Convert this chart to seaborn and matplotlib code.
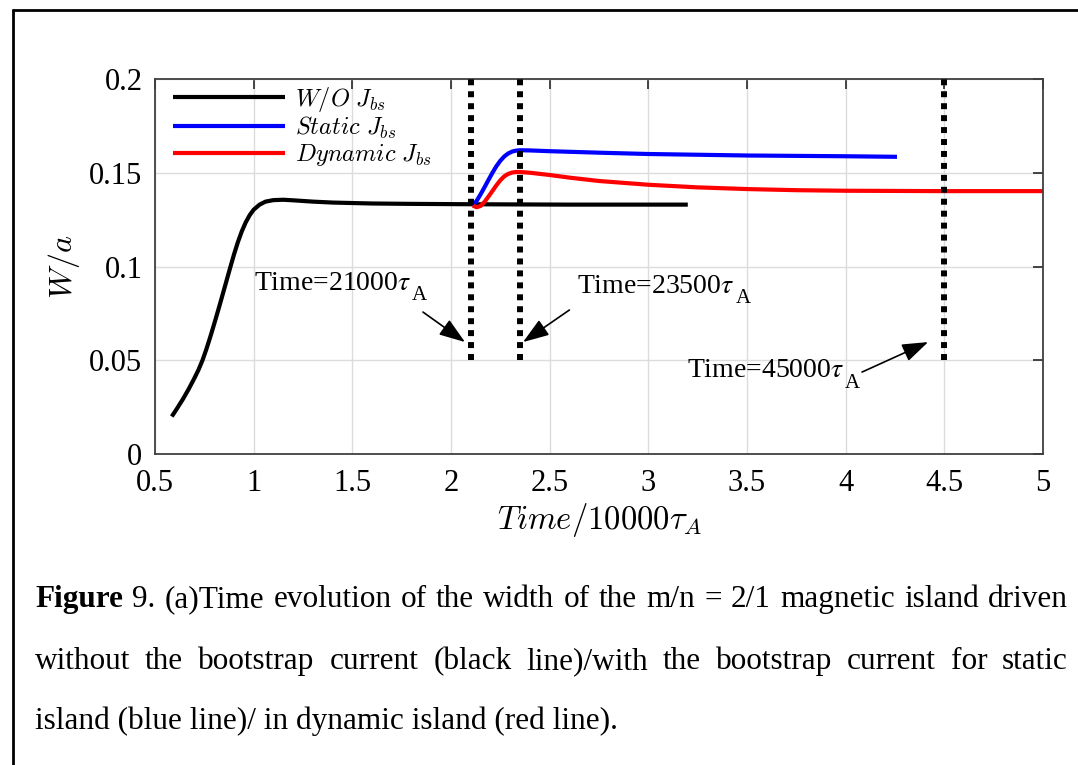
import numpy as np
import pandas as pd
import matplotlib
matplotlib.use("Agg")
import matplotlib.pyplot as plt
from matplotlib.lines import Line2D
import seaborn as sns

# ---- data -------------------------------------------------------------
t_wo = [0.585, 0.61, 0.64, 0.67, 0.70, 0.72, 0.74, 0.76, 0.78, 0.80, 0.82,
        0.84, 0.86, 0.88, 0.90, 0.92, 0.94, 0.96, 0.98, 1.00, 1.03, 1.06,
        1.10, 1.15, 1.20, 1.30, 1.40, 1.60, 1.80, 2.10, 2.60, 3.20]
w_wo = [0.0200, 0.0240, 0.0290, 0.0345, 0.0405, 0.0448, 0.0498, 0.0558,
        0.0624, 0.0694, 0.0766, 0.0840, 0.0915, 0.0990, 0.1063, 0.1130,
        0.1188, 0.1236, 0.1274, 0.1303, 0.1330, 0.1346, 0.1354, 0.1356,
        0.1353, 0.1346, 0.1341, 0.1336, 0.1334, 0.1332, 0.1330, 0.1330]

t_static = [2.11, 2.13, 2.15, 2.17, 2.19, 2.21, 2.23, 2.25, 2.27, 2.29, 2.31,
            2.33, 2.35, 2.40, 2.50, 2.75, 3.00, 3.50, 4.00, 4.26]
w_static = [0.1325, 0.1350, 0.1385, 0.1423, 0.1462, 0.1500, 0.1535, 0.1564,
            0.1587, 0.1603, 0.1613, 0.1618, 0.1620, 0.1619, 0.1615, 0.1607,
            0.1600, 0.1592, 0.1588, 0.1585]

t_dynamic = [2.11, 2.13, 2.15, 2.17, 2.19, 2.21, 2.23, 2.25, 2.27, 2.29, 2.31,
             2.33, 2.35, 2.40, 2.50, 2.60, 2.75, 3.00, 3.25, 3.50, 3.75, 4.00,
             4.50, 5.00]
w_dynamic = [0.1325, 0.1316, 0.1323, 0.1345, 0.1373, 0.1403, 0.1433, 0.1460,
             0.1481, 0.1494, 0.1501, 0.1504, 0.1504, 0.1500, 0.1488, 0.1474,
             0.1456, 0.1436, 0.1422, 0.1413, 0.1407, 0.1404, 0.1402, 0.1402]

case_labels = [r"$W/O\ J_{bs}$", r"$Static\ J_{bs}$", r"$Dynamic\ J_{bs}$"]
case_colors = ["#000000", "#0000ff", "#ff0000"]

marker_times = [2.1, 2.35, 4.5]
marker_texts = [r"Time=21000$\tau$", r"Time=23500$\tau$", r"Time=45000$\tau$"]
marker_sub = "A"

x_ticks = [0.5, 1, 1.5, 2, 2.5, 3, 3.5, 4, 4.5, 5]
x_ticklabels = ["0.5", "1", "1.5", "2", "2.5", "3", "3.5", "4", "4.5", "5"]
y_ticks = [0, 0.05, 0.1, 0.15, 0.2]
y_ticklabels = ["0", "0.05", "0.1", "0.15", "0.2"]

caption_lines = [
    "Figure 9. (a)Time evolution of the width of the m/n = 2/1 magnetic island driven",
    "without the bootstrap current (black line)/with the bootstrap current for static",
    "island (blue line)/ in dynamic island (red line).",
]

# ---- style ------------------------------------------------------------
sns.set_style("white")
plt.rcParams["font.family"] = ["Liberation Serif", "DejaVu Serif"]
plt.rcParams["mathtext.fontset"] = "stix"
for key in ["text.color", "axes.labelcolor", "xtick.color", "ytick.color"]:
    plt.rcParams[key] = "black"

W_PX, H_PX = 1078, 765
fig = plt.figure(figsize=(W_PX / 100, H_PX / 100), dpi=100)
fig.patch.set_facecolor("white")
ax = fig.add_axes([155 / W_PX, 1 - 454 / H_PX, (1043 - 155) / W_PX, (454 - 79) / H_PX])

df = pd.concat([
    pd.DataFrame({"t": t_wo, "w": w_wo, "case": case_labels[0]}),
    pd.DataFrame({"t": t_static, "w": w_static, "case": case_labels[1]}),
    pd.DataFrame({"t": t_dynamic, "w": w_dynamic, "case": case_labels[2]}),
], ignore_index=True)

sns.lineplot(data=df, x="t", y="w", hue="case", hue_order=case_labels,
             palette=case_colors, estimator=None, sort=False, lw=3,
             ax=ax, legend=True)
for ln in ax.get_lines():
    ln.set_solid_joinstyle("round")
    ln.set_solid_capstyle("butt")

# vertical dotted markers
for xt in marker_times:
    ax.vlines(xt, 0.05, 0.2, colors="black", linestyles=(0, (1, 1)),
              lw=4.3, zorder=5)

ax.set_xlim(0.5, 5)
ax.set_ylim(0, 0.2)
ax.set_xticks(x_ticks)
ax.set_xticklabels(x_ticklabels)
ax.set_yticks(y_ticks)
ax.set_yticklabels(y_ticklabels)
ax.tick_params(direction="in", length=7, width=1.2, colors="#262626",
               labelsize=22, labelcolor="black", top=True, right=True)
ax.tick_params(axis="x", pad=11)
ax.tick_params(axis="y", pad=9)
ax.grid(True, color="#dcdcdc", lw=1)
for sp in ax.spines.values():
    sp.set_color("#404040")
    sp.set_linewidth(1.3)

ax.set_xlabel(r"$Time/10000\tau_A$", fontsize=23.5, math_fontfamily="cm",
              labelpad=2)
ax.set_ylabel(r"$W/a$", fontsize=23, math_fontfamily="cm", labelpad=5)

leg = ax.legend(loc="upper left", bbox_to_anchor=(0.011, 1.008), frameon=False,
                fontsize=17.5, handlelength=4.6, labelspacing=0.05,
                handletextpad=0.4, borderaxespad=0.05, borderpad=0.3)
for txt in leg.get_texts():
    txt.set_math_fontfamily("cm")
for h in leg.get_lines():
    h.set_linewidth(3)

# annotations
text_pos = [(1.0, 0.0875), (2.64, 0.0859), (3.196, 0.041)]
arrow_tail = [(1.858, 0.0757), (2.60, 0.0768), (4.083, 0.0437)]
arrow_head = [(2.071, 0.0597), (2.365, 0.0597), (4.418, 0.0597)]
for s, p in zip(marker_texts, text_pos):
    main = ax.text(p[0], p[1], s, fontsize=20, va="baseline", ha="left")
    ax.annotate(marker_sub, xy=(1, 0), xycoords=main, xytext=(0.5, 0),
                textcoords="offset points", fontsize=15, va="center",
                ha="left")
for tail, head in zip(arrow_tail, arrow_head):
    ax.annotate("", xy=head, xytext=tail,
                arrowprops=dict(arrowstyle="-|>,head_length=0.8,head_width=0.28",
                                color="black", lw=1.2, shrinkA=0, shrinkB=0,
                                mutation_scale=20))

# frame lines around the figure panel
fig.add_artist(Line2D([13 / W_PX, 13 / W_PX], [0, 1 - 10 / H_PX],
                      transform=fig.transFigure, color="black", lw=2))
fig.add_artist(Line2D([13 / W_PX, 1], [1 - 10 / H_PX, 1 - 10 / H_PX],
                      transform=fig.transFigure, color="black", lw=2))

# caption, first two lines justified
cap_size = 22.5
x0, x1 = 35, 1068
baselines = [607, 669, 729]
renderer = fig.canvas.get_renderer()
for li, (line, yb) in enumerate(zip(caption_lines, baselines)):
    words = line.split(" ")
    if li == len(caption_lines) - 1:
        fig.text(x0 / W_PX, 1 - yb / H_PX, line, fontsize=cap_size,
                 va="baseline", ha="left")
        continue
    objs = []
    for wi, wd in enumerate(words):
        bold = (li == 0 and wi == 0)
        objs.append(fig.text(0, 0, wd, fontsize=cap_size, va="baseline",
                             ha="left", fontweight="bold" if bold else "normal"))
    widths = [o.get_window_extent(renderer).width for o in objs]
    gap = (x1 - x0 - sum(widths)) / (len(objs) - 1)
    xc = x0
    for o, wdt in zip(objs, widths):
        o.set_position((xc / W_PX, 1 - yb / H_PX))
        xc += wdt + gap

fig.savefig("out.png", dpi=100)
